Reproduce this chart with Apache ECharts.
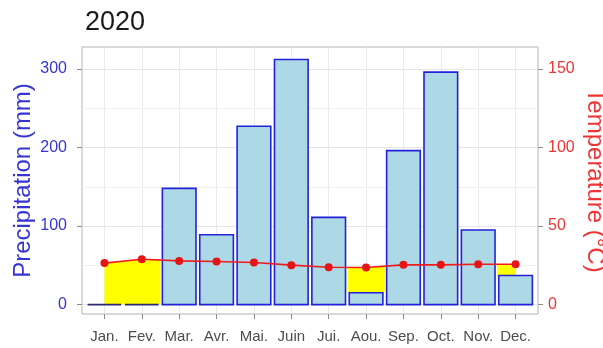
<!DOCTYPE html>
<html>
<head>
<meta charset="utf-8">
<script src="https://cdn.jsdelivr.net/npm/echarts@6/dist/echarts.min.js"></script>
<style>
  html, body { margin: 0; padding: 0; background: #fff; }
  #chart { width: 603px; height: 348px; }
</style>
</head>
<body>
<div id="chart"></div>
<script>
// Monthly climate summary, 2020
const months = ['Jan.', 'Fev.', 'Mar.', 'Avr.', 'Mai.', 'Juin', 'Jui.', 'Aou.', 'Sep.', 'Oct.', 'Nov.', 'Dec.'];
const precipitation = [0, 0, 148, 89, 227, 312, 111, 15, 196, 296, 95, 37];   // mm
const temperature = [26.4, 28.9, 27.8, 27.4, 26.8, 25.1, 23.8, 23.6, 25.3, 25.3, 25.7, 25.7]; // °C
const precipTicks = [0, 100, 200, 300];
const precipMinorTicks = [50, 150, 250];
const tempTicks = [0, 50, 100, 150];

const monthIdx = months.map((_, i) => i);
const FONT = '"Liberation Sans", Arial, sans-serif';
const X_MIN = -0.6, X_MAX = 11.6;

// temperature expressed on the precipitation scale (1 °C = 2 mm), linearly interpolated
function tempMm(x) {
  const n = temperature.length - 1;
  const cx = Math.max(0, Math.min(n, x));
  const i0 = Math.floor(cx), i1 = Math.min(n, i0 + 1);
  const f = cx - i0;
  return 2 * (temperature[i0] * (1 - f) + temperature[i1] * f);
}

const chart = echarts.init(document.getElementById('chart'), null, { renderer: 'canvas' });

chart.setOption({
  animation: false,
  backgroundColor: '#ffffff',
  title: {
    text: '2020',
    left: 80,
    top: 4,
    textStyle: { fontFamily: FONT, fontSize: 27, fontWeight: 'normal', color: '#1a1a1a' }
  },
  grid: {
    left: 82, right: 65, top: 47, bottom: 34,
    containLabel: false,
    outerBoundsMode: 'none',
    show: true, borderColor: '#b3b3b3', borderWidth: 1, backgroundColor: '#ffffff'
  },
  xAxis: {
    type: 'value',
    min: X_MIN, max: X_MAX,
    axisLine: { show: false, onZero: false },
    axisTick: { show: true, length: 5, customValues: monthIdx, lineStyle: { color: '#8c8c8c', width: 1 } },
    axisLabel: {
      customValues: monthIdx,
      formatter: v => months[Math.round(v)],
      margin: 15,
      fontFamily: FONT, fontSize: 15, color: '#4d4d4d'
    },
    splitLine: { show: true, lineStyle: { color: '#ebebeb', width: 1 } }
  },
  yAxis: [
    {
      type: 'value', position: 'left',
      min: -12, max: 328,
      name: 'Precipitation (mm)', nameLocation: 'middle', nameGap: 47, nameMoveOverlap: false,
      nameTextStyle: { fontFamily: FONT, fontSize: 24, color: '#3535d0' },
      axisLine: { show: false, onZero: false },
      axisTick: { show: true, length: 5, customValues: precipTicks, lineStyle: { color: '#8c8c8c' } },
      axisLabel: { customValues: precipTicks, margin: 15, fontFamily: FONT, fontSize: 16, color: '#3535d0' },
      splitLine: { show: true, lineStyle: { color: '#e6e6e6', width: 1 } }
    },
    {
      type: 'value', position: 'right',
      min: -6, max: 164,
      name: 'Temperature (°C)', nameLocation: 'middle', nameGap: 45, nameRotate: -90, nameMoveOverlap: false,
      nameTextStyle: { fontFamily: FONT, fontSize: 24, color: '#ee3535' },
      axisLine: { show: false, onZero: false },
      axisTick: { show: true, length: 5, customValues: tempTicks, lineStyle: { color: '#8c8c8c' } },
      axisLabel: { customValues: tempTicks, margin: 10, fontFamily: FONT, fontSize: 16, color: '#ee3535' },
      splitLine: { show: false }
    }
  ],
  series: [
    {
      // minor horizontal grid lines on the precipitation scale
      type: 'custom',
      yAxisIndex: 0,
      z: 0,
      silent: true,
      data: precipMinorTicks.map(v => [v]),
      renderItem: function (params, api) {
        const v = api.value(0);
        const a = api.coord([X_MIN, v]);
        const b = api.coord([X_MAX, v]);
        return {
          type: 'line',
          shape: { x1: a[0], y1: Math.round(a[1]) + 0.5, x2: b[0], y2: Math.round(b[1]) + 0.5 },
          style: { stroke: '#f0f0f0', lineWidth: 1 }
        };
      }
    },
    {
      // dry period: temperature curve above the month's precipitation
      type: 'custom',
      yAxisIndex: 0,
      z: 1,
      clip: true,
      data: monthIdx.map(i => [i]),
      renderItem: function (params, api) {
        const i = api.value(0);
        const n = months.length - 1;
        const xs = [Math.max(i - 0.5, 0), i, Math.min(i + 0.5, n)];
        const tops = xs.map(x => tempMm(x));
        const bottoms = tops.map(t => Math.min(precipitation[i], t));
        if (tops.every((t, k) => t - bottoms[k] < 1e-6)) return null;
        const pts = [];
        xs.forEach((x, k) => pts.push(api.coord([x, tops[k]])));
        for (let k = xs.length - 1; k >= 0; k--) pts.push(api.coord([xs[k], bottoms[k]]));
        return {
          type: 'polygon',
          shape: { points: pts },
          style: { fill: '#ffff00', stroke: null }
        };
      }
    },
    {
      // monthly precipitation bars
      type: 'custom',
      yAxisIndex: 0,
      z: 2,
      data: monthIdx.map(i => [i, precipitation[i]]),
      renderItem: function (params, api) {
        const i = api.value(0), v = api.value(1);
        const p0 = api.coord([i - 0.45, v]);
        const p1 = api.coord([i + 0.45, 0]);
        return {
          type: 'rect',
          shape: { x: p0[0], y: p0[1], width: p1[0] - p0[0], height: p1[1] - p0[1] },
          style: { fill: '#add8e6', stroke: v === 0 ? '#2a2a70' : '#2222d8', lineWidth: 1.6 }
        };
      }
    },
    {
      // mean monthly temperature
      type: 'line',
      yAxisIndex: 1,
      z: 3,
      data: monthIdx.map(i => [i, temperature[i]]),
      symbol: 'circle',
      symbolSize: 8,
      lineStyle: { color: '#ee1c1c', width: 1.6 },
      itemStyle: { color: '#e61414' }
    }
  ]
});
</script>
</body>
</html>
